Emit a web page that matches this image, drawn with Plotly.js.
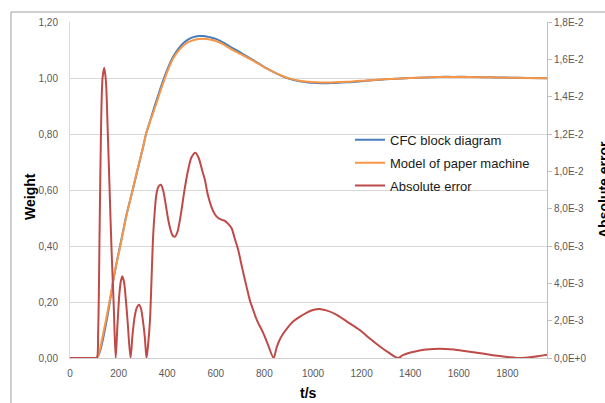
<!DOCTYPE html>
<html>
<head>
<meta charset="utf-8">
<script src="https://cdn.plot.ly/plotly-3.0.1.min.js"></script>
<style>
  html, body { margin: 0; padding: 0; background: #ffffff; }
  #chart { width: 605px; height: 403px; }
</style>
</head>
<body>
<div id="chart"></div>
<script>
// ---- Weight series (left axis) ----
const tWeight = [0, 100, 110, 120, 130, 141, 150, 164, 180, 193, 206, 220, 232, 245, 258, 272, 286, 300, 313,
  330, 345, 360, 373, 387, 405, 425, 445, 466, 487, 507, 530, 550, 575, 603, 637, 671, 705, 740, 775, 808,
  843, 877, 910, 945, 980, 1014, 1050, 1082, 1120, 1164, 1220, 1280, 1340, 1397, 1460, 1520, 1580, 1640,
  1700, 1760, 1820, 1880, 1963];
const cfcBlock = [0, 0, 0, 0.015, 0.045, 0.09, 0.13, 0.2, 0.285, 0.345, 0.4, 0.46, 0.51, 0.555, 0.6, 0.65, 0.7, 0.75, 0.8,
  0.848, 0.89, 0.93, 0.965, 1.0, 1.04, 1.077, 1.103, 1.124, 1.138, 1.146, 1.15, 1.15, 1.146, 1.139, 1.124, 1.106, 1.089, 1.071, 1.053, 1.035,
  1.019, 1.005, 0.995, 0.988, 0.984, 0.982, 0.981, 0.982, 0.984, 0.986, 0.99, 0.994, 0.997, 1.0, 1.002, 1.004, 1.004, 1.004,
  1.003, 1.002, 1.001, 1.0, 0.999];
const paperModel = [0, 0, 0, 0.02, 0.058, 0.1055, 0.1445, 0.209, 0.288, 0.3445, 0.396, 0.4558, 0.5075, 0.5545, 0.6016, 0.6527, 0.7028, 0.752, 0.8003,
  0.8457, 0.8828, 0.921, 0.9557, 0.9908, 1.0326, 1.0704, 1.0961, 1.1154, 1.1279, 1.1351, 1.1392, 1.1402, 1.1377, 1.1314, 1.1167, 1.0993, 1.084, 1.0679, 1.0511, 1.0341,
  1.0192, 1.0063, 0.9969, 0.9902, 0.9865, 0.9846, 0.9836, 0.9844, 0.9861, 0.9878, 0.9912, 0.9946, 0.997, 0.9997, 1.0016, 1.0035, 1.0036, 1.0037,
  1.0028, 1.0019, 1.001, 1.0, 0.9992];

// ---- Absolute error (right axis) ----
const tError = [0, 100, 110, 116, 122, 128, 134, 141, 148, 155, 163, 171, 180, 188,
  195, 203, 209, 215, 222, 230, 238, 249,
  257, 266, 275, 284, 292, 300, 308, 315,
  322, 329, 336, 342, 349, 356, 365, 374, 383, 393, 403, 413, 423, 432, 442, 455, 470, 485, 500, 516, 530, 545, 555,
  568, 582, 596, 610, 625, 637, 650, 665, 678, 692, 709, 726, 740, 753, 770, 795, 815, 838,
  850, 862, 877, 895, 918, 945, 973, 1000, 1027, 1055, 1096, 1140, 1192, 1235, 1274, 1310, 1350,
  1370, 1397, 1430, 1466, 1521, 1580, 1630, 1690, 1740, 1800, 1856, 1900, 1963];
const absError = [0, 0, 0, 0.0015, 0.007, 0.0125, 0.015, 0.01555, 0.0148, 0.0123, 0.009, 0.0058, 0.0028, 0,
  0.0017, 0.0034, 0.0041, 0.00438, 0.0041, 0.0031, 0.0018, 0,
  0.0012, 0.0022, 0.0027, 0.00285, 0.00265, 0.002, 0.0011, 0,
  0.0008, 0.002, 0.0044, 0.0065, 0.0079, 0.0088, 0.0092, 0.00928, 0.009, 0.0083, 0.0075, 0.0069, 0.00655, 0.0065, 0.00675, 0.0076, 0.0089, 0.01, 0.01075, 0.011, 0.0107, 0.01, 0.00955,
  0.0087, 0.0081, 0.0077, 0.0075, 0.0074, 0.00735, 0.0072, 0.00695, 0.0064, 0.0058, 0.0048, 0.00385, 0.0031, 0.0026, 0.002, 0.00135, 0.0007, 0,
  0.00055, 0.00095, 0.0013, 0.00162, 0.00195, 0.0022, 0.00242, 0.00257, 0.00263, 0.00255, 0.00233, 0.00195, 0.0015, 0.00103, 0.00063, 0.0003, 0,
  0.00015, 0.00028, 0.00038, 0.00045, 0.0005, 0.00045, 0.00036, 0.00025, 0.00015, 0.00006, 0, 0.00005, 0.00018];

// ---- Axis ticks ----
const xTickVals = [0, 200, 400, 600, 800, 1000, 1200, 1400, 1600, 1800];
const xTickText = ['0', '200', '400', '600', '800', '1000', '1200', '1400', '1600', '1800'];
const yTickVals = [0, 0.2, 0.4, 0.6, 0.8, 1.0, 1.2];
const yTickText = ['0,00', '0,20', '0,40', '0,60', '0,80', '1,00', '1,20'];
const y2TickVals = [0, 0.002, 0.004, 0.006, 0.008, 0.010, 0.012, 0.014, 0.016, 0.018];
const y2TickText = ['0,0E+0', '2,0E-3', '4,0E-3', '6,0E-3', '8,0E-3', '1,0E-2', '1,2E-2', '1,4E-2', '1,6E-2', '1,8E-2'];

const FONT = '"Liberation Sans", Arial, sans-serif';
const tickFont = { family: FONT, size: 10, color: '#595959' };

const traces = [
  { x: tWeight, y: cfcBlock, name: 'CFC block diagram', type: 'scatter', mode: 'lines',
    line: { color: '#4a7ebb', width: 2, shape: 'spline' }, legendgroup: 'a' },
  { x: tWeight, y: paperModel, name: 'Model of paper machine', type: 'scatter', mode: 'lines',
    line: { color: '#f79646', width: 2, shape: 'spline' }, legendgroup: 'b' },
  { x: tError, y: absError, name: 'Absolute error', type: 'scatter', mode: 'lines', yaxis: 'y2',
    line: { color: '#be4b48', width: 2, shape: 'spline', smoothing: 0.8 }, legendgroup: 'c' }
];

const layout = {
  width: 605, height: 403,
  margin: { l: 70, r: 58, t: 22, b: 45 },
  paper_bgcolor: '#ffffff', plot_bgcolor: '#ffffff',
  showlegend: true,
  legend: {
    x: 0.587, y: 0.694, xanchor: 'left', yanchor: 'top',
    bgcolor: 'rgba(0,0,0,0)', borderwidth: 0,
    font: { family: FONT, size: 13, color: '#1a1a1a' },
    traceorder: 'grouped', tracegroupgap: 3
  },
  xaxis: {
    range: [0, 1963], tickvals: xTickVals, ticktext: xTickText,
    showgrid: false, zeroline: false, showline: true, linecolor: '#d0d0d0', linewidth: 1,
    ticks: '', tickfont: tickFont, automargin: false, ticklabelstandoff: 6
  },
  yaxis: {
    range: [0, 1.2], tickvals: yTickVals, ticktext: yTickText,
    showgrid: true, gridcolor: '#d9d9d9', gridwidth: 1, zeroline: false,
    showline: true, linecolor: '#d9d9d9', linewidth: 1,
    ticks: '', ticklen: 0, tickfont: tickFont, automargin: false, ticklabelstandoff: 9
  },
  yaxis2: {
    range: [0, 0.018], overlaying: 'y', side: 'right', tickvals: y2TickVals, ticktext: y2TickText,
    showgrid: false, zeroline: false, showline: true, linecolor: '#bfbfbf', linewidth: 1,
    ticks: 'outside', ticklen: 4, tickcolor: '#bfbfbf', tickfont: tickFont, automargin: false
  },
  annotations: [
    { text: '<b>Weight</b>', xref: 'paper', yref: 'paper', x: (30 - 70) / 477, y: (358 - 197) / 336,
      xanchor: 'center', yanchor: 'middle', textangle: -90, showarrow: false,
      font: { family: FONT, size: 14, color: '#000000' } },
    { text: '<b>t/s</b>', xref: 'paper', yref: 'paper', x: 0.5, y: (358 - 393) / 336,
      xanchor: 'center', yanchor: 'middle', showarrow: false,
      font: { family: FONT, size: 14, color: '#000000' } },
    { text: '<b>Absolute error</b>', xref: 'paper', yref: 'paper', x: (604 - 70) / 477, y: 0.5,
      xanchor: 'center', yanchor: 'middle', textangle: -90, showarrow: false,
      font: { family: FONT, size: 14, color: '#000000' } }
  ],
  shapes: [
    { type: 'rect', xref: 'paper', yref: 'paper',
      x0: (11 - 70) / 477, x1: (640 - 70) / 477, y0: (358 - 430) / 336, y1: (358 - 12) / 336,
      line: { color: '#a0a0a0', width: 1 }, fillcolor: 'rgba(0,0,0,0)', layer: 'below' }
  ]
};

Plotly.newPlot('chart', traces, layout, { displayModeBar: false, staticPlot: true });
</script>
</body>
</html>
